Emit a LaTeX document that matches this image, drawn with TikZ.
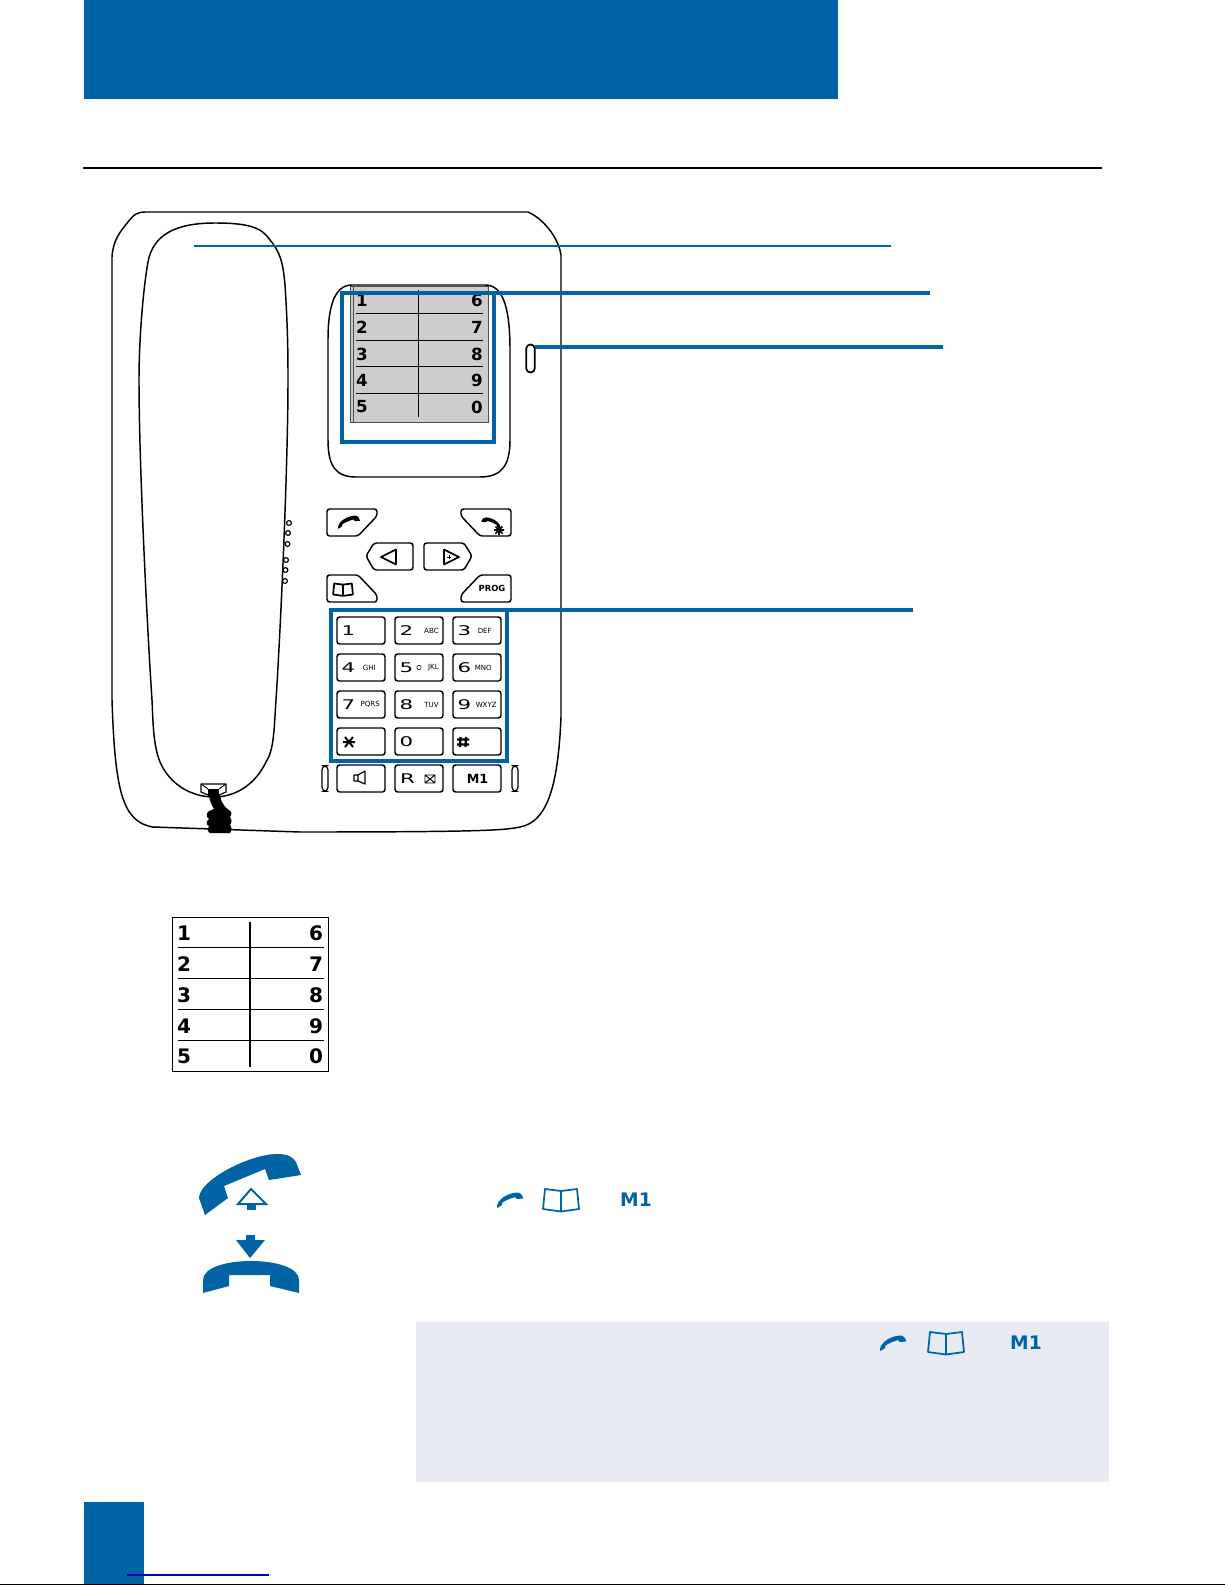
\documentclass[tikz,border=0pt]{standalone}
\usepackage{fontspec}
\setmainfont{DejaVu Sans}
\usetikzlibrary{positioning, calc}
\definecolor{bandblue}{HTML}{0063A6}
\definecolor{notebg}{HTML}{E8EBF3}
\definecolor{trayGray}{HTML}{CDCDCD}
\tikzset{
  pline/.style={draw=black, line width=1.1pt},
  keybox/.style={draw=black, line width=1.1pt, rounded corners=2pt, fill=white},
  callout/.style={draw=bandblue, line width=2.6pt},
  keynum/.style={inner sep=0pt, font=\fontsize{10}{10}\selectfont},
  keytxt/.style={inner sep=0pt, font=\fontsize{5.3}{5.3}\selectfont},
  traynum/.style={inner sep=0pt, font=\bfseries\fontsize{12.5}{12.5}\selectfont},
  cardnum/.style={inner sep=0pt, font=\bfseries\fontsize{15}{15}\selectfont},
  ledbox/.style={draw, line width=0.9pt, rounded corners=3pt, minimum width=4.5pt, minimum height=19pt, inner sep=0pt},
}
% wide key digit
\newcommand{\widekey}[1]{\scalebox{1.6}[1]{#1}}
% small handset, centred on the current origin
\newcommand{\phoneicon}[1]{%
  \fill[#1] (-13,8) .. controls (-14,2) and (-6,-6) .. (6,-7.5) .. controls (10,-8) and (13,-5) .. (13,-1.5)
    -- (7,-1) -- (5,-3) .. controls (0,-1.5) and (-6,1) .. (-8,3) -- (-8,5) -- (-11,7) -- cycle;}
% small open book, centred on the current origin
\newcommand{\bookicon}[1]{%
  \draw[#1, line width=1.3pt, line join=round] (-16,-10) -- (0,-8) -- (16,-10) -- (18,10) -- (0,12.5) -- (-18,10) -- cycle (0,-8) -- (0,12.5);}
\begin{document}
\begin{tikzpicture}[x=0.75pt,y=-0.75pt]
\useasboundingbox (0,0) rectangle (1225,1585);
% Header band and rule
\fill[bandblue] (84,0) rectangle (838,99);
\draw[line width=1.3pt] (83,168) -- (1102,168);
% Telephone body
\draw[pline] (112,257) .. controls (113,240) and (120,232) .. (128,222)
  .. controls (134,214) and (138,212) .. (145,212) -- (528,212)
  .. controls (542,218) and (558,236) .. (561,255)
  -- (561,717) .. controls (558,790) and (546,822) .. (520,827)
  .. controls (505,830) and (490,832) .. (300,832)
  -- (153,827) .. controls (122,822) and (115,790) .. (112,700) -- cycle;
% Handset
\draw[pline, fill=white] (215,223) .. controls (250,223) and (262,228) .. (270,240)
  .. controls (280,252) and (283,262) .. (285,285)
  .. controls (288,330) and (288,360) .. (288,380)
  .. controls (288,470) and (280,640) .. (276,700)
  .. controls (274,730) and (274,750) .. (266,762)
  .. controls (255,785) and (235,797) .. (214,797)
  .. controls (192,797) and (170,785) .. (160,762)
  .. controls (153,745) and (153,720) .. (152,700)
  .. controls (148,640) and (139,470) .. (139,380)
  .. controls (139,340) and (143,290) .. (148,262)
  .. controls (153,235) and (175,223) .. (215,223) -- cycle;
% Cord and plug
\fill[black] (208,790) .. controls (209,800) and (212,806) .. (214,809) -- (209,811)
  .. controls (206,813) and (206,817) .. (209,819) .. controls (206,821) and (206,825) .. (209,826)
  .. controls (207,828) and (207,831) .. (210,833) -- (230,833)
  .. controls (232,830) and (232,828) .. (230,825) .. controls (232,822) and (232,820) .. (230,817)
  .. controls (232,814) and (232,812) .. (229,810) .. controls (222,805) and (220,800) .. (220,790) -- cycle;
\draw[pline, fill=white, line width=0.9pt, line join=round] (201,784) -- (226,784) -- (226,792) -- (219,795) -- (208,795) -- (201,792) -- cycle;
\draw[line width=0.7pt] (201,784) -- (208,789) (226,784) -- (219,789);
\fill[black] (208,789) -- (219,789) -- (219,796) -- (208,796) -- cycle;
% Speaker holes
\foreach \hx/\hy in {289/523,288/533,287.5/544,286/560,285.5/570,285/581}
  \draw[line width=0.9pt] (\hx,\hy) circle (2.4);
% Display
\draw[pline] (352,285) -- (485,285) .. controls (502,285) and (510,305) .. (510,350)
  -- (510,440) .. controls (510,465) and (502,477) .. (480,477)
  -- (356,477) .. controls (335,477) and (328,465) .. (328,440)
  -- (328,340) .. controls (328,305) and (335,285) .. (352,285) -- cycle;
\draw[draw=black!70, fill=trayGray, line width=0.7pt] (350,286) rectangle (488,422);
\draw[draw=black!70, line width=0.5pt] (353,286) -- (353,422);
\foreach \ly in {313,340,366,393}
  \draw[line width=0.7pt] (356,\ly) -- (483,\ly);
\draw[line width=0.7pt] (418,290) -- (418,417);
\foreach \a/\b/\ny in {1/6/300,2/7/327,3/8/354,4/9/380,5/0/407} {
  \node[traynum] (tl\a) at (362,\ny) {\a};
  \node[traynum] (tr\b) at (477,\ny) {\b};
}
% Callout frames and lines
\draw[callout] (342,293) rectangle (494,442);
\draw[callout] (494,293) -- (930,293);
\draw[callout, line width=1.7pt] (194,246) -- (891,246);
\draw[callout] (535,347) -- (943,347);
\draw[callout] (331,610) rectangle (507,761);
\draw[callout] (507,610) -- (913,610);
% LEDs
\node[ledbox, line width=1.3pt, minimum width=6.3pt, minimum height=21pt] (ledtop) at (530.5,358.5) {};
\node[ledbox] (ledl) at (325,778.5) {};
\node[ledbox] (ledr) at (515,778.5) {};
% Function buttons
\draw[keybox] (327,509) -- (377,509) -- (377,516) -- (358,536) -- (327,536) -- cycle;
\draw[keybox] (461,509) -- (511,509) -- (511,536) -- (480,536) -- (461,516) -- cycle;
\draw[keybox] (366,556) -- (374,543) -- (413,543) -- (413,570) -- (374,570) -- cycle;
\draw[keybox] (424,543) -- (464,543) -- (472,556) -- (464,570) -- (424,570) -- cycle;
\draw[keybox] (327,575) -- (358,575) -- (377,595) -- (377,602) -- (327,602) -- cycle;
\draw[keybox] (480,575) -- (511,575) -- (511,602) -- (461,602) -- (461,595) -- cycle;
\begin{scope}[shift={(349,522)},scale=0.85]
\phoneicon{black}
\end{scope}
\begin{scope}[shift={(491,523)},xscale=-0.75,yscale=0.75]
\phoneicon{black}
\end{scope}
\draw[line width=1.2pt] (499,525) -- (499,535) (494,530) -- (504,530) (495.5,526.5) -- (502.5,533.5) (502.5,526.5) -- (495.5,533.5);
\draw[line width=1.3pt, line join=round] (381,557) -- (396,549.5) -- (396,564.5) -- cycle;
\draw[line width=1.3pt, line join=round] (444,549.5) -- (459,557) -- (444,564.5) -- cycle;
\draw[line width=0.5pt] (447,557) -- (451,557) (449,555) -- (449,559);
\begin{scope}[shift={(343,589)},scale=0.55]
\bookicon{black}
\end{scope}
\node[inner sep=0pt, font=\bfseries\fontsize{6.3}{6.3}\selectfont] (progkey) at (492,588) {PROG};
% Keypad
\foreach \kx/\ky/\kn/\kt/\ke in {337/617/1//44,395/617/2/ABC/44,453/617/3/DEF/39,
  337/654/4/GHI/39,395/654/5/JKL/44,453/654/6/MNO/39,
  337/691/7/PQRS/43,395/691/8/TUV/44,453/691/9/WXYZ/44,
  395/728/0//44} {
  \draw[keybox] (\kx,\ky) rectangle ++(48,27);
  \node[keynum] (key\kn) at ($(\kx,\ky)+(11.5,13.5)$) {\widekey{\kn}};
  \node[keytxt, anchor=east] (txt\kn) at ($(\kx,\ky)+(\ke,13.5)$) {\kt};
}
\draw[line width=0.4pt] (419,667.5) circle (2.2);
\draw[keybox] (337,728) rectangle ++(48,27);
\draw[keybox] (453,728) rectangle ++(48,27);
\draw[line width=1.5pt] (343,742) -- (355,742) (345,737) -- (353,747) (353,737) -- (345,747);
\draw[line width=1.6pt] (460.5,737) -- (460,747) (466,737) -- (465.5,747) (457,739.5) -- (469,739.5) (457,744.5) -- (469,744.5);
\draw[keybox] (337,765) rectangle ++(48,27);
\draw[keybox] (395,765) rectangle ++(48,27);
\draw[keybox] (453,765) rectangle ++(48,27);
\draw[line width=0.9pt, line join=round] (354,775) -- (358,775) -- (365,771) -- (365,784) -- (358,781) -- (354,781) -- cycle (358,775) -- (358,781);
\node[keynum] (keyR) at (407.5,778.5) {\widekey{R}};
\draw[line width=0.7pt] (425,775) rectangle (435,783) (425,775) -- (435,783) (435,775) -- (425,783);
\node[inner sep=0pt, font=\bfseries\fontsize{9.5}{9.5}\selectfont] (keyM) at (477.5,778.5) {M1};
% Labelling card
\draw[line width=0.6pt] (172,917) rectangle (328,1071);
\foreach \cy in {947,978,1009,1040}
  \draw[line width=0.7pt] (178,\cy) -- (324,\cy);
\draw[line width=1.5pt] (250,922) -- (250,1067);
\foreach \a/\b/\ny in {1/6/933,2/7/964,3/8/995,4/9/1026,5/0/1056} {
  \node[cardnum] (cl\a) at (184,\ny) {\a};
  \node[cardnum] (cr\b) at (316,\ny) {\b};
}
% Off-hook icon
\fill[bandblue] (205,1215) -- (199,1198) .. controls (199,1180) and (250,1154) .. (277,1154)
  .. controls (290,1154) and (293,1158) .. (296,1162) -- (301,1175) -- (269,1180) -- (265,1169)
  -- (224,1186) -- (228,1198) -- cycle;
\draw[bandblue, line width=1.5pt, line join=miter] (251,1189) -- (238,1204) -- (266,1204) -- cycle;
\fill[bandblue] (247,1204) rectangle (256,1210);
% On-hook icon
\fill[bandblue] (246,1235) rectangle (255,1240);
\fill[bandblue] (236,1240) -- (265,1240) -- (250,1258) -- cycle;
\fill[bandblue] (203,1293) -- (203,1280) .. controls (203,1268) and (225,1261) .. (251,1261)
  .. controls (277,1261) and (299,1268) .. (299,1280) -- (299,1293) -- (270,1286) -- (270,1275)
  -- (229,1275) -- (229,1286) -- cycle;
% Inline icons
\begin{scope}[shift={(510,1200)}]
\phoneicon{bandblue}
\end{scope}
\begin{scope}[shift={(561,1199)}]
\bookicon{bandblue}
\end{scope}
\node[inner sep=0pt, text=bandblue, font=\bfseries\fontsize{14}{14}\selectfont] (mone) at (636,1200) {M1};
% Note box
\fill[notebg] (416,1322) rectangle (1109,1482);
\begin{scope}[shift={(893,1343)}]
\phoneicon{bandblue}
\end{scope}
\begin{scope}[shift={(946,1342)}]
\bookicon{bandblue}
\end{scope}
\node[inner sep=0pt, text=bandblue, font=\bfseries\fontsize{14}{14}\selectfont] (mtwo) at (1026,1343) {M1};
% Page tab and bottom rule
\fill[bandblue] (84,1502) rectangle (144,1585);
\draw[draw={rgb,255:red,0;green,0;blue,200}, line width=0.9pt] (127,1575) -- (269,1575);
\draw[line width=1pt] (0,1584.3) -- (1225,1584.3);
\end{tikzpicture}
\end{document}
